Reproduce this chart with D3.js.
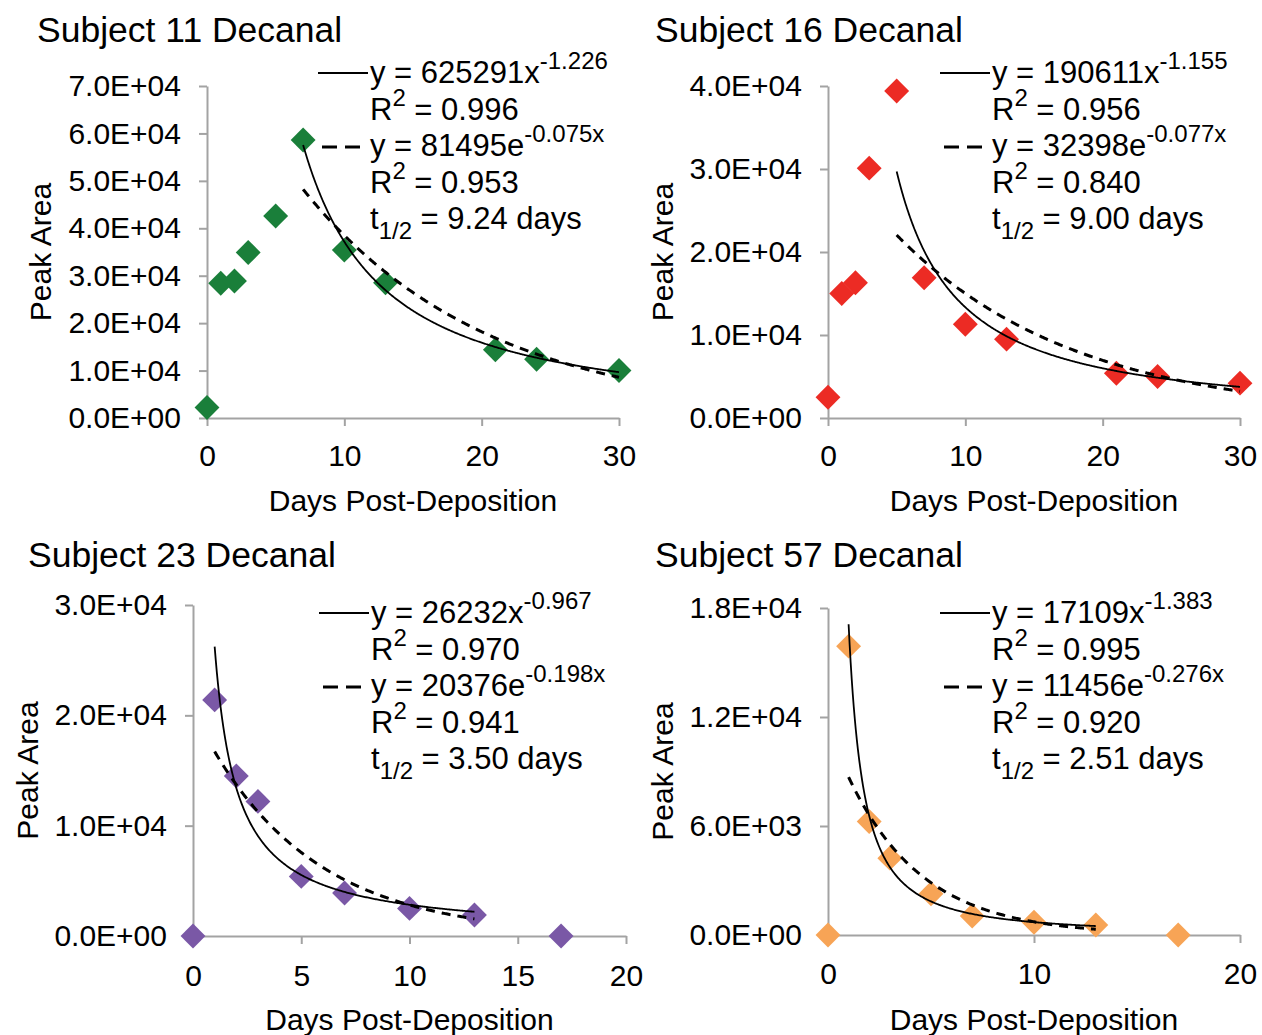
<!DOCTYPE html>
<html>
<head>
<meta charset="utf-8">
<script src="https://cdn.jsdelivr.net/npm/d3@7/dist/d3.min.js"></script>
<style>
  html, body { margin: 0; padding: 0; background: #fff; }
  svg { display: block; font-family: "Liberation Sans", Arial, sans-serif; }
</style>
</head>
<body>
<svg id="chart" width="1262" height="1035"></svg>
<script>
// ---- measured peak areas per subject ----
const subjects = ["Subject 11 Decanal", "Subject 16 Decanal", "Subject 23 Decanal", "Subject 57 Decanal"];

const days11 = [0, 1, 2, 3, 5, 7, 10, 13, 21, 24, 30];
const area11 = [2200, 28400, 28900, 34900, 42600, 58600, 35400, 28500, 14400, 12400, 10000];

const days16 = [0, 1, 2, 3, 5, 7, 10, 13, 21, 24, 30];
const area16 = [2500, 15000, 16300, 30100, 39400, 16900, 11300, 9500, 5400, 5000, 4200];

const days23 = [0, 1, 2, 3, 5, 7, 10, 13, 17];
const area23 = [0, 21400, 14500, 12200, 5400, 3900, 2500, 1900, 0];

const days57 = [0, 1, 2, 3, 5, 7, 10, 13, 17];
const area57 = [0, 15900, 6250, 4230, 2270, 1050, 700, 550, 0];

// ---- fitted trend lines (power and exponential) ----
const powerCoef = [625291, 190611, 26232, 17109];
const powerExp = ["-1.226", "-1.155", "-0.967", "-1.383"];
const powerR2 = ["0.996", "0.956", "0.970", "0.995"];
const expCoef = [81495, 32398, 20376, 11456];
const expRate = ["-0.075", "-0.077", "-0.198", "-0.276"];
const expR2 = ["0.953", "0.840", "0.941", "0.920"];
const halfLife = ["9.24", "9.00", "3.50", "2.51"];
const fitFrom = [7, 5, 1, 1];
const fitTo = [30, 30, 13, 13];

// ---- axis ticks ----
const yTicks11 = [0, 10000, 20000, 30000, 40000, 50000, 60000, 70000];
const yTicks16 = [0, 10000, 20000, 30000, 40000];
const yTicks23 = [0, 10000, 20000, 30000];
const yTicks57 = [0, 6000, 12000, 18000];
const xTicks11 = [0, 10, 20, 30];
const xTicks16 = [0, 10, 20, 30];
const xTicks23 = [0, 5, 10, 15, 20];
const xTicks57 = [0, 10, 20];

const markerColors = ["#1a7f3a", "#ec2b24", "#7a58a6", "#f7a456"];

// panel geometry in page pixels
const panels = [
  { days: days11, area: area11, yTicks: yTicks11, xTicks: xTicks11,
    left: 207, right: 619, top: 86, bottom: 418, xPad: 19,
    titleX: 37, titleY: 42, yTitleX: 40, xTitleY: 511,
    legX: 370, legY: 83 },
  { days: days16, area: area16, yTicks: yTicks16, xTicks: xTicks16,
    left: 828, right: 1240, top: 86, bottom: 418, xPad: 19,
    titleX: 655, titleY: 42, yTitleX: 662, xTitleY: 511,
    legX: 992, legY: 83 },
  { days: days23, area: area23, yTicks: yTicks23, xTicks: xTicks23,
    left: 193, right: 626, top: 605, bottom: 936, xPad: 21,
    titleX: 28, titleY: 567, yTitleX: 27, xTitleY: 1030,
    legX: 371, legY: 623 },
  { days: days57, area: area57, yTicks: yTicks57, xTicks: xTicks57,
    left: 828, right: 1240, top: 608, bottom: 935, xPad: 20,
    titleX: 655, titleY: 567, yTitleX: 662, xTitleY: 1030,
    legX: 992, legY: 623 }
];

const svg = d3.select("#chart");
svg.append("rect").attr("width", 1262).attr("height", 1035).attr("fill", "#fff");

const AXIS = "#a3a3a3";
const sci = v => {
  const [m, e] = v.toExponential(1).split("e");
  const sign = e[0] === "-" ? "-" : "+";
  const digits = e.replace(/[+-]/, "").padStart(2, "0");
  return m + "E" + sign + digits;
};

panels.forEach((p, i) => {
  const g = svg.append("g");
  const x = d3.scaleLinear().domain([0, d3.max(p.xTicks)]).range([p.left, p.right]);
  const y = d3.scaleLinear().domain([0, d3.max(p.yTicks)]).range([p.bottom, p.top]);

  // y axis
  const ya = g.append("g").attr("transform", `translate(${p.left},0)`)
    .call(d3.axisLeft(y).tickValues(p.yTicks).tickFormat(sci).tickSize(8).tickSizeOuter(0).tickPadding(18));
  // x axis
  const xa = g.append("g").attr("transform", `translate(0,${p.bottom})`)
    .call(d3.axisBottom(x).tickValues(p.xTicks).tickFormat(d3.format("d")).tickSize(8).tickSizeOuter(0).tickPadding(p.xPad));
  [ya, xa].forEach(a => {
    a.select(".domain").attr("stroke", AXIS).attr("stroke-width", 2);
    a.selectAll(".tick line").attr("stroke", AXIS).attr("stroke-width", 2);
    a.selectAll(".tick text").attr("fill", "#000").style("font-size", "30px")
      .style("font-family", "'Liberation Sans', Arial, sans-serif");
  });

  // titles
  g.append("text").attr("x", p.titleX).attr("y", p.titleY)
    .style("font-size", "35.5px").text(subjects[i]);
  g.append("text").attr("transform", `translate(${p.yTitleX},${(p.top + p.bottom) / 2}) rotate(-90)`)
    .attr("text-anchor", "middle").attr("dominant-baseline", "central")
    .style("font-size", "30px").text("Peak Area");
  g.append("text").attr("x", (p.left + p.right) / 2).attr("y", p.xTitleY)
    .attr("text-anchor", "middle").style("font-size", "30px").text("Days Post-Deposition");

  // markers
  const diamond = d3.symbol().type(d3.symbolSquare).size(310);
  g.selectAll("path.pt").data(p.days.map((d, k) => [d, p.area[k]])).join("path")
    .attr("class", "pt")
    .attr("d", diamond)
    .attr("transform", d => `translate(${x(d[0])},${y(d[1])}) rotate(45)`)
    .attr("fill", markerColors[i]);

  // trend lines drawn from the fitted equations
  const xs = d3.range(fitFrom[i], fitTo[i] + 1e-9, 0.05);
  const pw = +powerExp[i], rk = +expRate[i];
  const line = d3.line().x(d => x(d[0])).y(d => y(d[1]));
  g.append("path").attr("d", line(xs.map(v => [v, powerCoef[i] * Math.pow(v, pw)])))
    .attr("fill", "none").attr("stroke", "#000").attr("stroke-width", 1.8);
  g.append("path").attr("d", line(xs.map(v => [v, expCoef[i] * Math.exp(rk * v)])))
    .attr("fill", "none").attr("stroke", "#000").attr("stroke-width", 3)
    .attr("stroke-dasharray", "9,7");

  // equation legend
  const lh = 36.5;
  const rows = [
    [["y = " + powerCoef[i] + "x", 0], [powerExp[i], 1]],
    [["R", 0], ["2", 1], [" = " + powerR2[i], 0]],
    [["y = " + expCoef[i] + "e", 0], [expRate[i] + "x", 1]],
    [["R", 0], ["2", 1], [" = " + expR2[i], 0]],
    [["t", 0], ["1/2", -1], [" = " + halfLife[i] + " days", 0]]
  ];
  rows.forEach((row, r) => {
    const t = g.append("text").attr("x", p.legX).attr("y", p.legY + r * lh).style("font-size", "31px");
    let shift = 0;
    row.forEach(([s, kind]) => {
      const target = kind === 1 ? -14 : kind === -1 ? 10 : 0;
      t.append("tspan").attr("dy", target - shift)
        .style("font-size", kind === 0 ? "31px" : "24px").text(s);
      shift = target;
    });
  });
  g.append("line").attr("x1", p.legX - 52).attr("x2", p.legX - 2)
    .attr("y1", p.legY - 10).attr("y2", p.legY - 10)
    .attr("stroke", "#000").attr("stroke-width", 1.8);
  g.append("line").attr("x1", p.legX - 48).attr("x2", p.legX - 2)
    .attr("y1", p.legY + 2 * lh - 9).attr("y2", p.legY + 2 * lh - 9)
    .attr("stroke", "#000").attr("stroke-width", 3).attr("stroke-dasharray", "15,8");
});
</script>
</body>
</html>
